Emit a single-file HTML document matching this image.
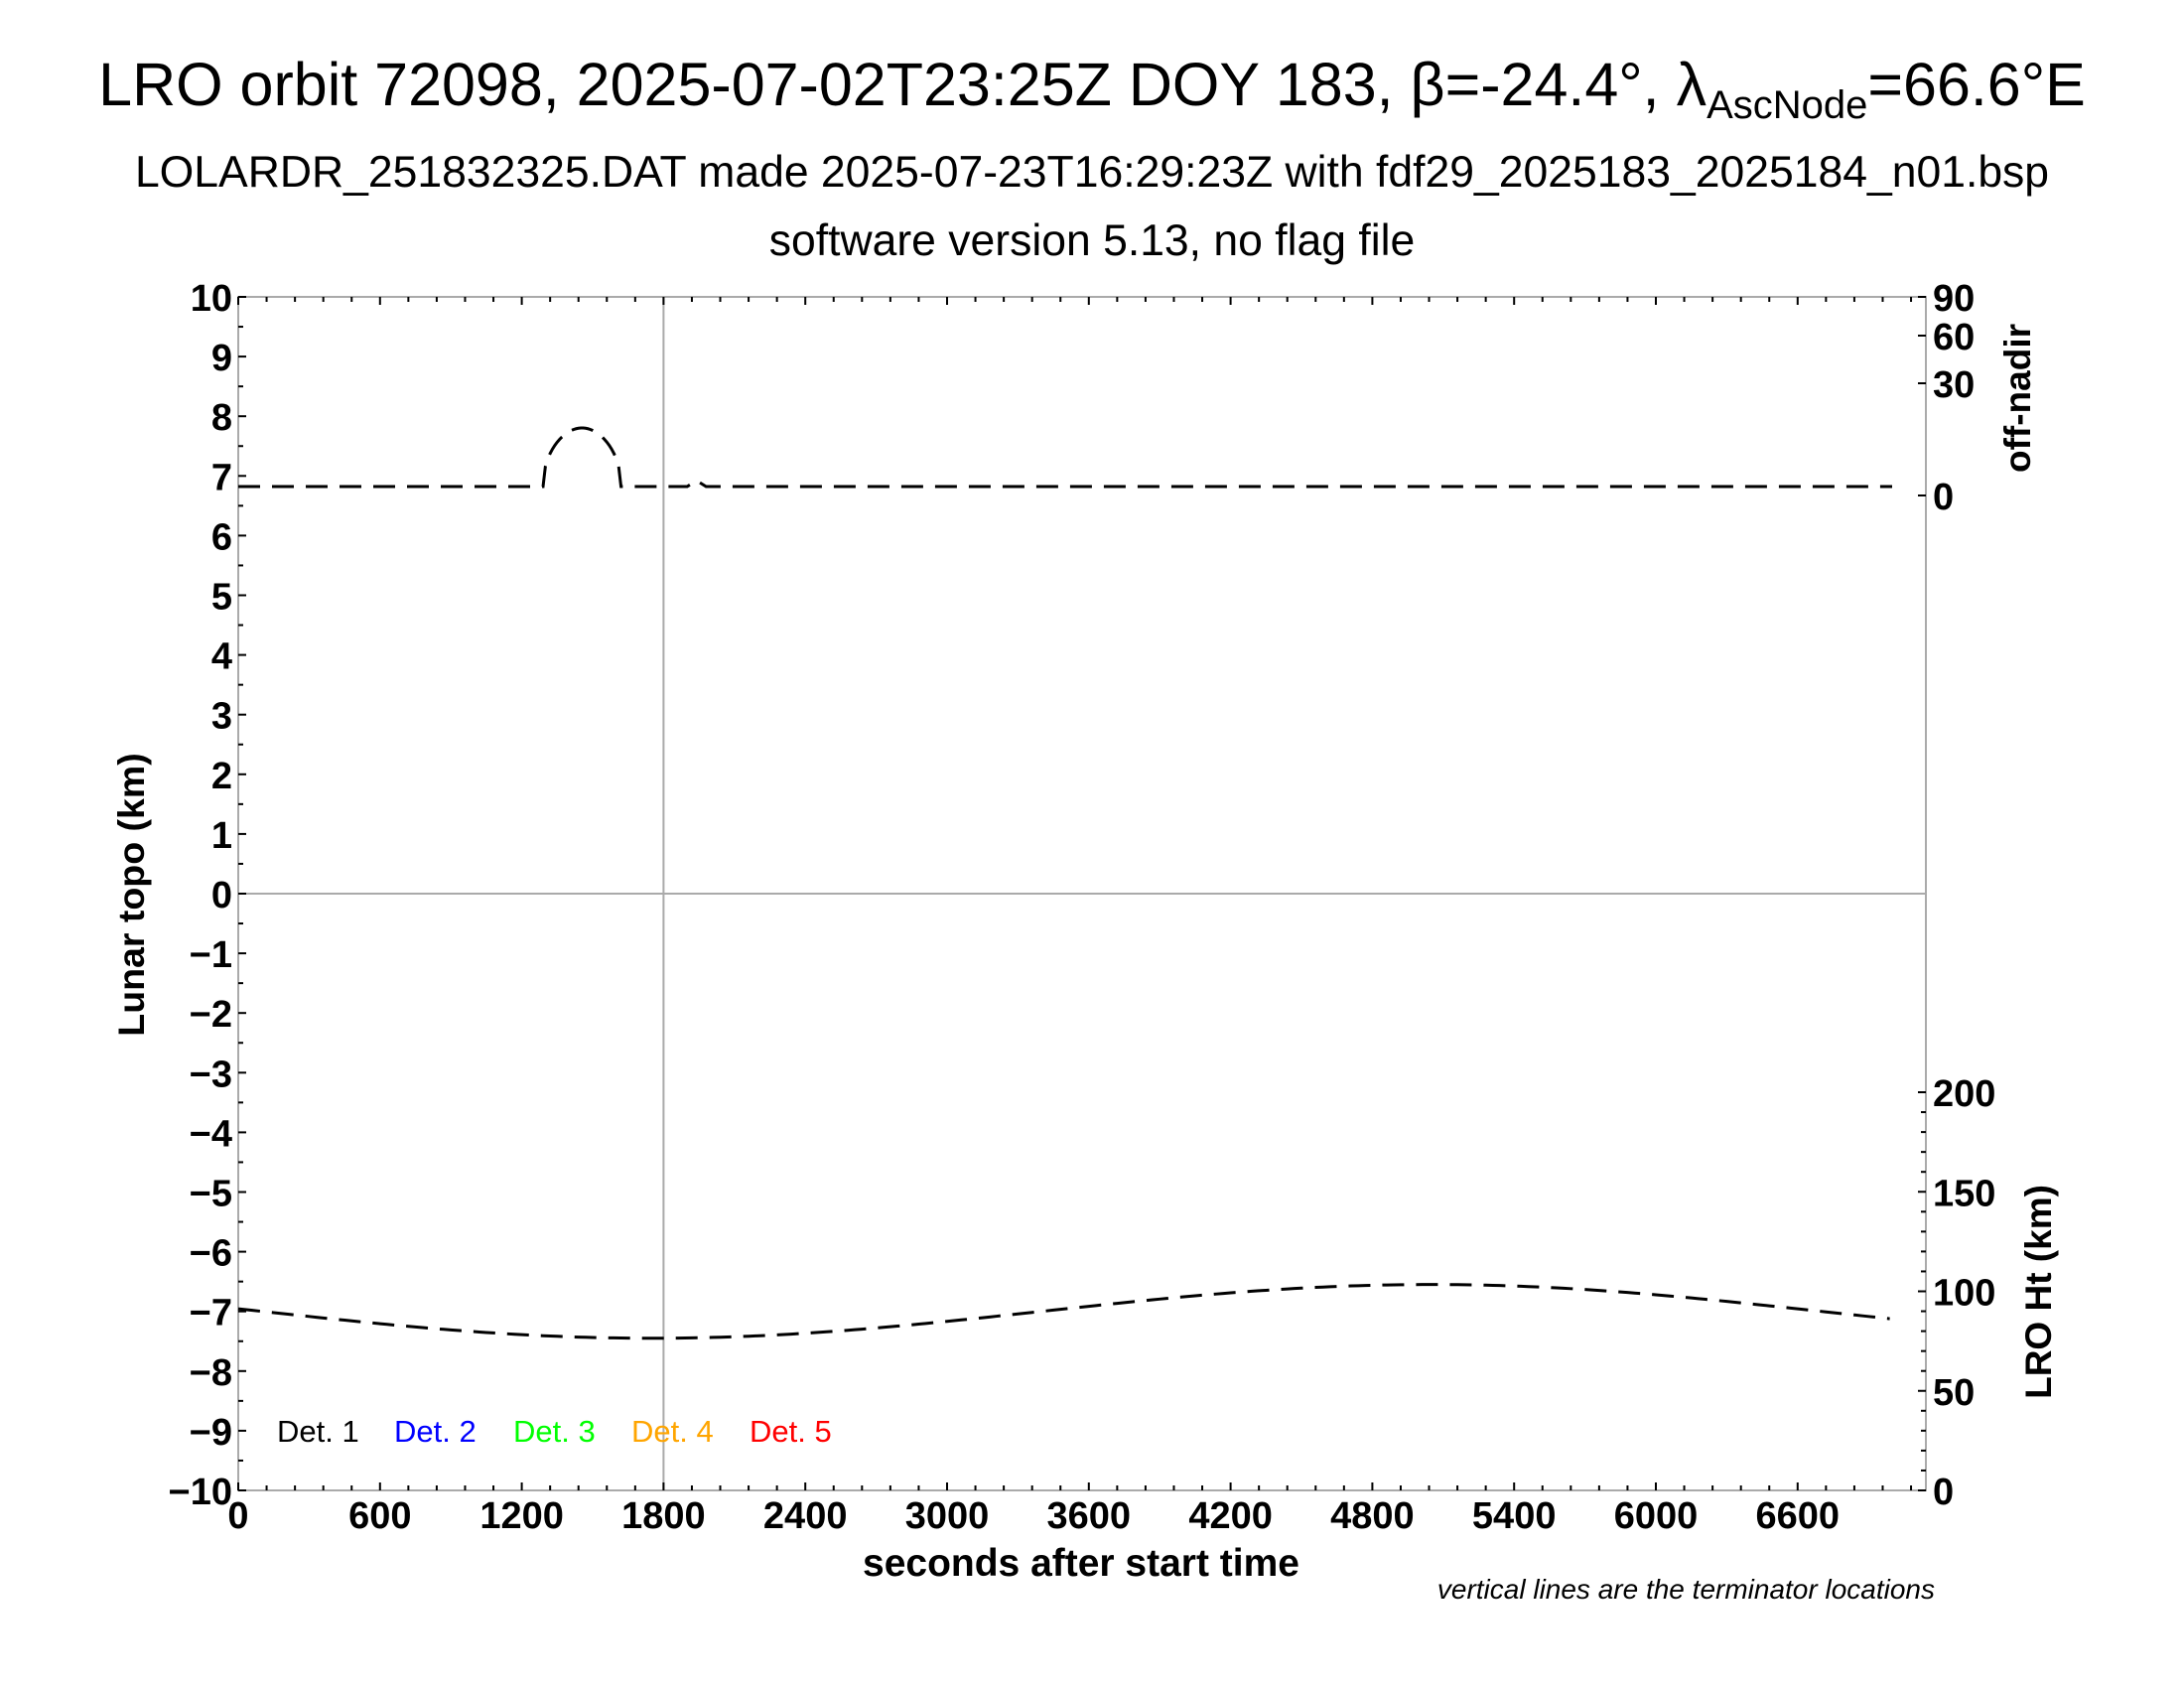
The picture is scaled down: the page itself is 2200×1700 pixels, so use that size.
<!DOCTYPE html>
<html><head><meta charset="utf-8"><style>
html,body{margin:0;padding:0;background:#fff;}
svg{display:block;}
text{font-family:"Liberation Sans",sans-serif;}
.n{font-family:"Liberation Sans Narrow","Liberation Sans",sans-serif;font-weight:bold;font-size:38px;}
</style></head><body>
<svg id="s" width="2200" height="1700" xmlns="http://www.w3.org/2000/svg">
<text x="1100" y="106" font-size="61" text-anchor="middle">LRO orbit 72098, 2025-07-02T23:25Z DOY 183, β=-24.4°, λ<tspan font-size="40" dy="13">AscNode</tspan><tspan dy="-13">=66.6°E</tspan></text>
<text x="1100" y="188" font-size="44.5" text-anchor="middle">LOLARDR_251832325.DAT made 2025-07-23T16:29:23Z with fdf29_2025183_2025184_n01.bsp</text>
<text x="1100" y="257" font-size="44.5" text-anchor="middle">software version 5.13, no flag file</text>
<g id="g"></g>
<text x="1089" y="1587" font-size="39" font-weight="bold" text-anchor="middle">seconds after start time</text>
<text transform="translate(145,901) rotate(-90)" font-size="37.5" font-weight="bold" text-anchor="middle">Lunar topo (km)</text>
<text transform="translate(2045,401) rotate(-90)" font-size="37" font-weight="bold" text-anchor="middle">off-nadir</text>
<text transform="translate(2066,1301) rotate(-90)" font-size="37" font-weight="bold" text-anchor="middle">LRO Ht (km)</text>
<text x="1949" y="1610" font-size="28" font-style="italic" text-anchor="end">vertical lines are the terminator locations</text>
<g font-size="31" font-family="Liberation Sans Narrow, Liberation Sans, sans-serif">
<text x="279" y="1452" fill="#000">Det. 1</text>
<text x="397" y="1452" fill="#00f">Det. 2</text>
<text x="517" y="1452" fill="#0f0">Det. 3</text>
<text x="636" y="1452" fill="orange">Det. 4</text>
<text x="755" y="1452" fill="#f00">Det. 5</text>
</g>
</svg>
<script>
var L=240,R=1940,T=299,B=1501;
function X(s){return L+s*0.238;}
function Y(v){return 900-v*60.1;}
var o='';
o+='<rect x="'+L+'" y="'+T+'" width="'+(R-L)+'" height="'+(B-T)+'" fill="none" stroke="#aaa" stroke-width="2"/>';
o+='<line x1="'+L+'" y1="900" x2="'+R+'" y2="900" stroke="#aaa" stroke-width="2"/>';
o+='<line x1="'+X(1800)+'" y1="'+T+'" x2="'+X(1800)+'" y2="'+B+'" stroke="#aaa" stroke-width="2"/>';
for(var s=0;s<=7140;s+=120){var x=X(s),big=s%600==0;
o+='<line x1="'+x+'" y1="'+B+'" x2="'+x+'" y2="'+(B-(big?8:5))+'" stroke="#000" stroke-width="2"/>';
o+='<line x1="'+x+'" y1="'+T+'" x2="'+x+'" y2="'+(T+(big?8:5))+'" stroke="#000" stroke-width="2"/>';
if(s%600==0&&s<=6600)o+='<text class="n" x="'+x+'" y="'+(B+38)+'" text-anchor="middle">'+s+'</text>';}
for(var v=-10;v<=10;v+=0.5){var y=Y(v),big=v%1==0;
o+='<line x1="'+L+'" y1="'+y+'" x2="'+(L+(big?8:5))+'" y2="'+y+'" stroke="#000" stroke-width="2"/>';
if(big)o+='<text class="n" x="'+(L-6)+'" y="'+(y+14)+'" text-anchor="end">'+(v<0?'\u2212'+(-v):v)+'</text>';}
for(var h=0;h<=200;h+=10){var y=B-h*2.005;o+='<line x1="'+R+'" y1="'+y+'" x2="'+(R-(h%50==0?8:5))+'" y2="'+y+'" stroke="#000" stroke-width="2"/>';
if(h%50==0)o+='<text class="n" x="'+(R+7)+'" y="'+(y+14)+'">'+h+'</text>';}
[[0,499],[30,386],[60,338],[90,299]].forEach(function(a){o+='<line x1="'+R+'" y1="'+a[1]+'" x2="'+(R-8)+'" y2="'+a[1]+'" stroke="#000" stroke-width="2"/><text class="n" x="'+(R+7)+'" y="'+(a[1]+14)+'">'+a[0]+'</text>';});
var p='M'+L+' 490 L'+X(1290)+' 490';
for(var s=1290;s<=1620;s+=10){var t=(s-1290)/330;var d=Math.pow(Math.sin(Math.PI*t),0.45);p+=' L'+X(s)+' '+(490-59*d);}
p+=' L'+X(1620)+' 490 L'+X(1900)+' 490 L'+X(1940)+' 484 L'+X(1980)+' 490 L'+X(7000)+' 490';
o+='<path d="'+p+'" fill="none" stroke="#000" stroke-width="3" stroke-dasharray="22,12"/>';
var q='';for(var s=0;s<=7000;s+=30){var v=-7-0.45*Math.cos(2*Math.PI*(s-1750)/6600);q+=(s?' L':'M')+X(s)+' '+Y(v);}
o+='<path d="'+q+'" fill="none" stroke="#000" stroke-width="3" stroke-dasharray="22,12"/>';
document.getElementById('g').innerHTML=o;
</script>
</body></html>
